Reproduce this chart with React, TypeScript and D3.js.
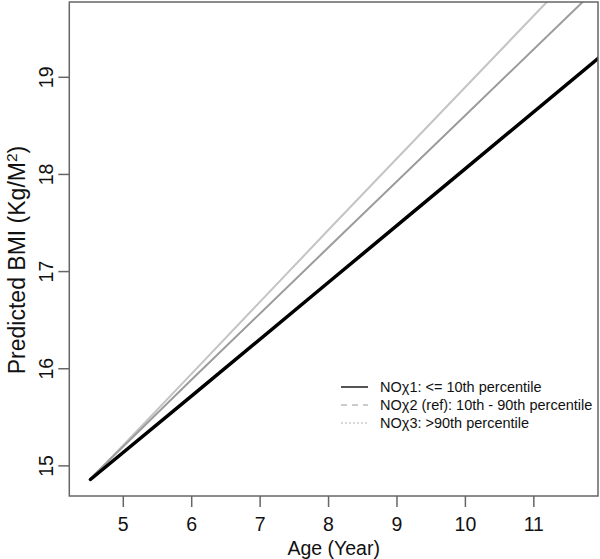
import React from "react";
import * as d3 from "d3";

const ages = [4.52, 6, 8, 10, 12];
const nox1 = [14.86, 15.72, 16.89, 18.06, 19.23];
const nox2 = [14.87, 15.89, 17.25, 18.61, 19.97];
const nox3 = [14.86, 15.95, 17.43, 18.9, 20.37];

const xTicks = [5, 6, 7, 8, 9, 10, 11];
const yTicks = [15, 16, 17, 18, 19];

const legendLabels = [
  { pre: "NO", sub: "χ", post: "1: <= 10th percentile" },
  { pre: "NO", sub: "χ", post: "2 (ref): 10th - 90th percentile" },
  { pre: "NO", sub: "χ", post: "3: >90th percentile" },
];

const W = 600;
const H = 559;
const left = 69.3;
const right = 598;
const top = 2;
const bottom = 496;

const x = d3.scaleLinear().domain([4.211, 11.938]).range([left, right]);
const y = d3.scaleLinear().domain([14.69, 19.775]).range([bottom, top]);

const font = "'Liberation Sans', Arial, Helvetica, sans-serif";

export default function App() {
  const line = d3
    .line<number>()
    .x((_, i) => x(ages[i]))
    .y((d) => y(d));

  const series = [
    { data: nox3, color: "#c4c4c4", width: 2 },
    { data: nox2, color: "#9c9c9c", width: 2 },
    { data: nox1, color: "#000000", width: 3.5 },
  ];

  const legendStyles = [
    { color: "#555", width: 2, dash: "none" },
    { color: "#bbb", width: 1.5, dash: "6 5" },
    { color: "#ccc", width: 1.5, dash: "2 2" },
  ];

  return (
    <svg
      width={W}
      height={H}
      style={{ position: "absolute", left: 0, top: 0, background: "#fff" }}
      fontFamily={font}
    >
      <defs>
        <clipPath id="plotclip">
          <rect x={left} y={top} width={right - left} height={bottom - top} />
        </clipPath>
      </defs>
      <rect width={W} height={H} fill="#fff" />
      <g clipPath="url(#plotclip)">
        {series.map((s, i) => (
          <path
            key={i}
            d={line(s.data) || ""}
            fill="none"
            stroke={s.color}
            strokeWidth={s.width}
            strokeLinecap="round"
          />
        ))}
      </g>
      <rect
        x={left}
        y={top}
        width={right - left}
        height={bottom - top}
        fill="none"
        stroke="#666"
        strokeWidth={1.5}
      />
      {xTicks.map((t) => (
        <g key={t}>
          <line x1={x(t)} x2={x(t)} y1={bottom} y2={bottom + 11} stroke="#666" strokeWidth={1.5} />
          <text x={x(t)} y={531} textAnchor="middle" fontSize={19.5} fill="#111">
            {t}
          </text>
        </g>
      ))}
      {yTicks.map((t) => (
        <g key={t}>
          <line x1={left - 11} x2={left} y1={y(t)} y2={y(t)} stroke="#666" strokeWidth={1.5} />
          <text
            transform={`translate(53,${y(t)}) rotate(-90)`}
            textAnchor="middle"
            fontSize={19.5}
            fill="#111"
          >
            {t}
          </text>
        </g>
      ))}
      <text x={(left + right) / 2} y={555} textAnchor="middle" fontSize={19.5} fill="#111">
        Age (Year)
      </text>
      <text
        transform={`translate(25,260) rotate(-90)`}
        textAnchor="middle"
        fontSize={23}
        fill="#111"
      >
        Predicted BMI (Kg/M
        <tspan fontSize={15.5} dy={-8}>2</tspan>
        <tspan dy={8}>)</tspan>
      </text>
      {legendLabels.map((l, i) => {
        const ly = 387 + i * 18;
        const st = legendStyles[i];
        return (
          <g key={i}>
            <line
              x1={341}
              x2={368}
              y1={ly}
              y2={ly}
              stroke={st.color}
              strokeWidth={st.width}
              strokeDasharray={st.dash}
            />
            <text x={380} y={ly + 5} fontSize={14.5} fill="#111">
              {l.pre}
              {l.sub}
              {l.post}
            </text>
          </g>
        );
      })}
    </svg>
  );
}
